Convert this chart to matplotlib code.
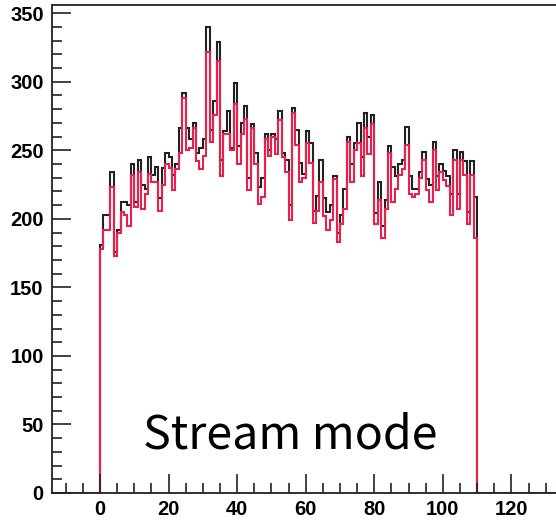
import matplotlib.pyplot as plt
import numpy as np

# bin contents, 1 unit wide bins from 0 to 110
black = [181, 203, 203, 234, 176, 192, 212, 212, 210, 240,
         212, 243, 225, 222, 245, 232, 238, 215, 237, 248,
         245, 232, 240, 266, 292, 266, 258, 270, 248, 252,
         258, 340, 265, 286, 329, 243, 264, 279, 252, 299,
         253, 270, 282, 230, 269, 248, 223, 230, 262, 250,
         262, 258, 279, 248, 243, 210, 281, 265, 241, 233,
         264, 255, 206, 217, 243, 215, 205, 210, 231, 190,
         203, 222, 260, 240, 255, 270, 245, 277, 260, 276,
         204, 227, 195, 214, 253, 238, 231, 240, 243, 267,
         231, 222, 222, 234, 249, 229, 225, 256, 231, 240,
         235, 231, 218, 250, 218, 249, 242, 205, 242, 216]
red = [178, 192, 192, 223, 173, 190, 205, 203, 195, 232,
       209, 234, 207, 218, 233, 227, 227, 206, 225, 240,
       237, 221, 236, 248, 288, 250, 252, 266, 242, 236,
       246, 322, 256, 276, 315, 231, 262, 262, 250, 284,
       240, 262, 273, 221, 266, 240, 211, 216, 258, 246,
       260, 247, 272, 245, 234, 199, 277, 254, 227, 230,
       255, 241, 197, 206, 227, 202, 192, 199, 229, 183,
       196, 207, 256, 227, 250, 255, 231, 266, 247, 269,
       196, 214, 186, 207, 248, 212, 222, 232, 236, 254,
       218, 216, 218, 230, 243, 221, 212, 250, 221, 234,
       228, 224, 203, 243, 207, 243, 232, 196, 232, 186]
edges = np.arange(0, len(black) + 1)

fig = plt.figure(figsize=(5.56, 5.21), dpi=100)
ax = fig.add_axes([52/556, 28/521, 1 - 52/556, 488/521])

# red one also runs along zero outside the filled range
red_edges = np.concatenate([[-20], edges, [140]])
red_vals = np.concatenate([[0], red, [0]])
ax.stairs(black, edges, color='#222222', lw=1.5)
ax.stairs(red_vals, red_edges, color='#e8204e', lw=1.5)

ax.set_xlim(-14, 133)
ax.set_ylim(0, 356)
ax.set_xticks(np.arange(0, 121, 20))
ax.set_xticks(np.arange(-10, 134, 5), minor=True)
ax.set_yticks(np.arange(0, 351, 50))
ax.set_yticks(np.arange(0, 356, 10), minor=True)
ax.tick_params(which='both', direction='in', width=1.2, color='#222222')
ax.tick_params(which='major', length=14)
ax.tick_params(which='minor', length=7)
ax.tick_params(axis='x', pad=5)
ax.tick_params(axis='y', pad=6)
for lab in ax.get_xticklabels() + ax.get_yticklabels():
    lab.set_fontfamily('Liberation Sans')
    lab.set_fontweight('bold')
    lab.set_fontsize(14.5)
ax.spines['right'].set_visible(False)
for s in ['left', 'bottom', 'top']:
    ax.spines[s].set_linewidth(1.3)
    ax.spines[s].set_color('#222222')

fig.text(290/556, 1 - 435/521, "Stream mode", fontsize=33.5,
         family=['Noto Sans CJK JP', 'DejaVu Sans'], ha='center', va='center')

fig.savefig('out.png', dpi=100)
